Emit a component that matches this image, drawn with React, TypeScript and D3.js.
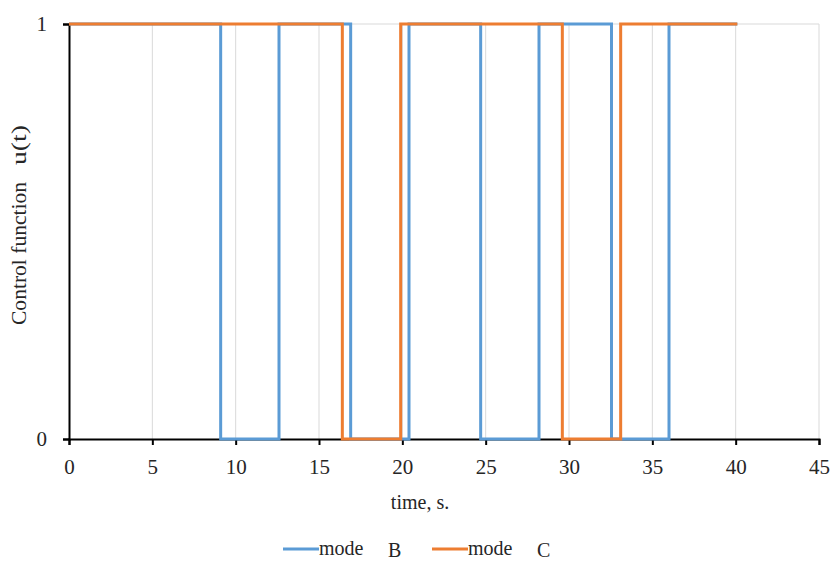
import React, { useRef, useEffect } from 'react';
import * as d3 from 'd3';

// switching times (s) and control values, step after each time
const modeBTimes = [0, 9.1, 12.6, 16.9, 20.4, 24.7, 28.2, 32.55, 36.0, 40.1];
const modeBValues = [1, 0, 1, 0, 1, 0, 1, 0, 1, 1];
const modeCTimes = [0, 16.4, 19.9, 29.6, 33.1, 40.1];
const modeCValues = [1, 0, 1, 0, 1, 1];
const xTicks = [0, 5, 10, 15, 20, 25, 30, 35, 40, 45];
const yTicks = [0, 1];

const series = [
  { name: 'mode', tag: 'B', times: modeBTimes, values: modeBValues, color: '#5B9BD5' },
  { name: 'mode', tag: 'C', times: modeCTimes, values: modeCValues, color: '#ED7D31' },
];

const App = () => {
  const ref = useRef<SVGSVGElement>(null);

  useEffect(() => {
    const svg = d3.select(ref.current);
    svg.selectAll('*').remove();
    const font = 'Liberation Serif, Times New Roman, serif';
    const ink = '#262626';

    const x = d3.scaleLinear().domain([0, 45]).range([69, 819]);
    const y = d3.scaleLinear().domain([0, 1]).range([439, 24]);

    // gridlines
    svg.append('g')
      .selectAll('line')
      .data(xTicks.slice(1))
      .join('line')
      .attr('x1', d => x(d)).attr('x2', d => x(d))
      .attr('y1', y(0)).attr('y2', y(1))
      .attr('stroke', '#d9d9d9').attr('stroke-width', 1);
    svg.append('line')
      .attr('x1', x(0)).attr('x2', x(45))
      .attr('y1', y(1)).attr('y2', y(1))
      .attr('stroke', '#d9d9d9').attr('stroke-width', 1);

    // axes
    const xAxis = svg.append('g').attr('transform', `translate(0,${y(0)})`)
      .call(d3.axisBottom(x).tickValues(xTicks).tickSize(6).tickPadding(14));
    xAxis.select('.domain').attr('stroke', '#000').attr('stroke-width', 2);
    xAxis.selectAll('.tick line').attr('stroke', '#000').attr('stroke-width', 2);
    xAxis.selectAll('.tick text')
      .attr('font-family', font).attr('font-size', 21).attr('fill', ink);

    const yAxis = svg.append('g').attr('transform', `translate(${x(0)},0)`)
      .call(d3.axisLeft(y).tickValues(yTicks).tickFormat(d3.format('d')).tickSize(6).tickPadding(16));
    yAxis.select('.domain').attr('stroke', '#000').attr('stroke-width', 2);
    yAxis.selectAll('.tick line').attr('stroke', '#000').attr('stroke-width', 2);
    yAxis.selectAll('.tick text')
      .attr('font-family', font).attr('font-size', 21).attr('fill', ink);

    // step lines
    const line = d3.line<[number, number]>()
      .x(d => x(d[0])).y(d => y(d[1]))
      .curve(d3.curveStepAfter);
    series.forEach(s => {
      const pts = s.times.map((t, i) => [t, s.values[i]] as [number, number]);
      svg.append('path')
        .attr('d', line(pts))
        .attr('fill', 'none')
        .attr('stroke', s.color)
        .attr('stroke-width', 3);
    });

    // axis titles
    svg.append('text')
      .attr('x', 420).attr('y', 509)
      .attr('text-anchor', 'middle')
      .attr('font-family', font).attr('font-size', 20).attr('fill', ink)
      .text('time, s.');
    svg.append('text')
      .attr('transform', 'translate(26,325) rotate(-90)')
      .attr('font-family', font).attr('font-size', 20).attr('fill', ink)
      .attr('textLength', 143).attr('lengthAdjust', 'spacingAndGlyphs')
      .text('Control function');
    svg.append('text')
      .attr('transform', 'translate(26,165) rotate(-90)')
      .attr('font-family', font).attr('font-size', 20).attr('fill', ink)
      .attr('textLength', 40).attr('lengthAdjust', 'spacingAndGlyphs')
      .text('u(t)');

    // legend
    const lx = [283, 432];
    series.forEach((s, i) => {
      const g = svg.append('g').attr('transform', `translate(${lx[i]},549)`);
      g.append('line').attr('x1', 0).attr('x2', 36).attr('y1', 0).attr('y2', 0)
        .attr('stroke', s.color).attr('stroke-width', 3);
      g.append('text').attr('x', 36).attr('y', 6)
        .attr('font-family', font).attr('font-size', 20).attr('fill', ink)
        .text(s.name);
      g.append('text').attr('x', 105).attr('y', 8)
        .attr('font-family', font).attr('font-size', 20).attr('fill', ink)
        .text(s.tag);
    });
  }, []);

  return (
    <svg ref={ref} width={832} height={561}
      style={{ position: 'absolute', left: 0, top: 0, background: '#fff' }} />
  );
};

export default App;
